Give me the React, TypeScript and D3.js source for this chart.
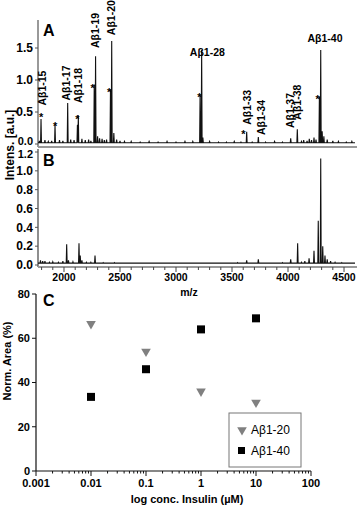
import React from "react";
import * as d3 from "d3";

// ---------- DATA ----------
// Panel A spectrum: [m/z, intensity]
const peaksA: [number, number][] = [
  [1795, 0.39], [1920, 0.30], [2033, 0.64], [2120, 0.30], [2128, 0.45],
  [2270, 0.93], [2282, 1.37], [2300, 0.12], [2318, 0.09], [2415, 0.85], [2426, 1.61],
  [2445, 0.17], [2470, 0.07], [3215, 0.77], [3229, 1.47], [3240, 0.1], [3631, 0.19],
  [3735, 0.11], [4024, 0.09], [4083, 0.23], [4140, 0.06], [4190, 0.08],
  [4232, 0.1], [4280, 0.74], [4292, 1.47], [4305, 0.2], [4320, 0.12],
  [4350, 0.07], [4400, 0.05],
];
const noiseA: [number, number][] = [
  [1780, 0.05], [1830, 0.06], [1860, 0.04], [1890, 0.05], [1960, 0.06], [1990, 0.05],
  [2060, 0.07], [2090, 0.06], [2160, 0.08], [2190, 0.06], [2220, 0.07], [2240, 0.05],
  [2340, 0.08], [2360, 0.06], [2380, 0.07], [2500, 0.05], [2540, 0.04], [2600, 0.04],
  [2680, 0.03], [2760, 0.04], [2840, 0.03], [2920, 0.04], [3000, 0.03], [3080, 0.04],
  [3150, 0.04], [3300, 0.04], [3380, 0.03], [3450, 0.03], [3520, 0.04], [3580, 0.03],
  [3680, 0.03], [3800, 0.03], [3880, 0.04], [3950, 0.03], [4120, 0.04], [4170, 0.05],
  [4210, 0.06], [4250, 0.07], [4450, 0.04], [4520, 0.03], [4570, 0.04],
];
// Panel B spectrum
const peaksB: [number, number][] = [
  [1790, 0.05], [1810, 0.04], [2024, 0.22], [2040, 0.05], [2134, 0.23],
  [2145, 0.1], [2160, 0.05], [2277, 0.1], [3631, 0.05], [3735, 0.06],
  [4024, 0.06], [4086, 0.23], [4150, 0.04], [4188, 0.07], [4232, 0.15],
  [4270, 0.47], [4292, 1.13], [4310, 0.2], [4330, 0.1], [4350, 0.06], [4380, 0.04],
];
const noiseB: [number, number][] = [
  [1830, 0.04], [1870, 0.03], [1900, 0.035], [1950, 0.03], [1990, 0.04], [2080, 0.035],
  [2200, 0.03], [2240, 0.03], [2350, 0.025], [2450, 0.025], [2600, 0.02], [2800, 0.02],
  [3000, 0.02], [3200, 0.02], [3400, 0.02], [3550, 0.025], [3850, 0.02], [3950, 0.025],
  [4120, 0.03], [4420, 0.03], [4480, 0.025], [4550, 0.02],
];
const starsA: [number, number][] = [
  [1795, 0.45], [1920, 0.31], [2119, 0.43], [2256, 0.91], [2402, 0.85],
  [3208, 0.77], [3601, 0.19], [4265, 0.74],
];
const vLabelsA = [
  { name: "Aβ1-15", mz: 1810, h: 0.60 },
  { name: "Aβ1-17", mz: 2028, h: 0.68 },
  { name: "Aβ1-18", mz: 2135, h: 0.64 },
  { name: "Aβ1-19", mz: 2282, h: 1.50 },
  { name: "Aβ1-20", mz: 2430, h: 1.70 },
  { name: "Aβ1-33", mz: 3640, h: 0.30 },
  { name: "Aβ1-34", mz: 3770, h: 0.14 },
  { name: "Aβ1-37", mz: 4024, h: 0.25 },
  { name: "Aβ1-38", mz: 4090, h: 0.38 },
];
const hLabelsA = [
  { name: "Aβ1-28", mz: 3280, h: 1.37 },
  { name: "Aβ1-40", mz: 4330, h: 1.6 },
];
const yTicksA = [0, 0.5, 1.0, 1.5];
const yTicksB = [0, 0.2, 0.4, 0.6, 0.8, 1.0, 1.2];
const xTicksMz = [2000, 2500, 3000, 3500, 4000, 4500];

// Panel C
const conc = [0.01, 0.1, 1, 10];
const ab20 = [66.5, 54, 36, 31];
const ab40 = [33.5, 46, 64, 69];
const xTicksC = [0.001, 0.01, 0.1, 1, 10, 100];
const yTicksC = [0, 20, 40, 60, 80];

// ---------- SCALES ----------
const xMz = d3.scaleLinear().domain([1768, 4598]).range([38, 355]);
const yA = d3.scaleLinear().domain([0, 1.5]).range([144, 48]);
const yB = d3.scaleLinear().domain([0, 1.2]).range([265, 152]);
const xC = d3.scaleLog().domain([0.001, 100]).range([36, 311]);
const yC = d3.scaleLinear().domain([0, 80]).range([471, 294]);

const FONT = "Liberation Sans, Arial, sans-serif";

function spectrumPath(peaks: [number, number][], noise: [number, number][], y: d3.ScaleLinear<number, number>, base: number) {
  const all = [...peaks, ...noise].sort((a, b) => a[0] - b[0]);
  const pts: [number, number][] = [[1768, base]];
  all.forEach(([m, h]) => {
    pts.push([m - 4, base]);
    pts.push([m, h]);
    pts.push([m + 4, base]);
  });
  pts.push([4598, base]);
  const line = d3.line<[number, number]>().x((d) => xMz(d[0])).y((d) => y(d[1]));
  return line(pts) || "";
}

export default function App() {
  const minorMz = d3.range(1800, 4600, 100);
  const minorC: number[] = [];
  for (let e = -3; e < 2; e++) for (let k = 2; k <= 9; k++) minorC.push(k * Math.pow(10, e));
  const tri = d3.symbol().type(d3.symbolTriangle).size(40)();
  return (
    <svg width={358} height={513} style={{ position: "absolute", left: 0, top: 0, background: "#fff" }} fontFamily={FONT}>
      {/* ---- Panel A ---- */}
      <line x1={38} x2={38} y1={20} y2={147} stroke="#777" strokeWidth={1.5} />
      <line x1={38} x2={357} y1={147} y2={147} stroke="#999" strokeWidth={2} />
      {yTicksA.map((t) => (
        <g key={"ya" + t}>
          <line x1={35} x2={38} y1={yA(t)} y2={yA(t)} stroke="#555" />
          <text x={33} y={yA(t) - (t === 0 ? 2.5 : 0)} dy="0.36em" textAnchor="end" fontSize={t === 0 ? 11 : 12} fontWeight="bold">{t.toFixed(1)}</text>
        </g>
      ))}
      <path d={spectrumPath(peaksA, noiseA, yA, 0.02)} fill="none" stroke="#111" strokeWidth={1.1} />
      {starsA.map(([m, h], i) => (
        <text key={"s" + i} x={xMz(m)} y={yA(h)} dy="0.55em" textAnchor="middle" fontSize={11} fontWeight="bold">*</text>
      ))}
      {vLabelsA.map((l) => (
        <text key={l.name} transform={`translate(${xMz(l.mz) + 3},${yA(l.h)}) rotate(-90)`} fontSize={10.5} fontWeight="bold">{l.name}</text>
      ))}
      {hLabelsA.map((l) => (
        <text key={l.name} x={xMz(l.mz)} y={yA(l.h)} textAnchor="middle" fontSize={10.5} fontWeight="bold">{l.name}</text>
      ))}
      <text x={43} y={36} fontSize={16} fontWeight="bold">A</text>

      {/* ---- Panel B ---- */}
      <line x1={38} x2={38} y1={149} y2={267} stroke="#444" strokeWidth={1.2} />
      <line x1={38} x2={357} y1={267} y2={267} stroke="#999" strokeWidth={2} />
      {yTicksB.map((t) => (
        <g key={"yb" + t}>
          <line x1={35} x2={38} y1={yB(t)} y2={yB(t)} stroke="#555" />
          <text x={33} y={yB(t) + (t === 1.2 ? 2.5 : 0)} dy="0.36em" textAnchor="end" fontSize={t === 1.2 ? 11 : 12} fontWeight="bold">{t.toFixed(1)}</text>
        </g>
      ))}
      {minorMz.map((m) => (
        <line key={"mm" + m} x1={xMz(m)} x2={xMz(m)} y1={267} y2={m % 500 === 0 ? 272 : 270} stroke="#444" />
      ))}
      {xTicksMz.map((m) => (
        <text key={"xm" + m} x={xMz(m)} y={281} textAnchor="middle" fontSize={10.5} fontWeight="bold">{m}</text>
      ))}
      <path d={spectrumPath(peaksB, noiseB, yB, 0.02)} fill="none" stroke="#111" strokeWidth={1.1} />
      <text x={43} y={166} fontSize={16} fontWeight="bold">B</text>
      <text x={189} y={296} textAnchor="middle" fontSize={10.5} fontWeight="bold">m/z</text>
      <text transform="translate(14,145) rotate(-90)" textAnchor="middle" fontSize={12} fontWeight="bold">Intens. [a.u.]</text>

      {/* ---- Panel C ---- */}
      <line x1={36} x2={36} y1={yC(80)} y2={yC(0)} stroke="#111" strokeWidth={1.2} />
      <line x1={36} x2={311} y1={yC(0)} y2={yC(0)} stroke="#111" strokeWidth={1.2} />
      {yTicksC.map((t) => (
        <g key={"yc" + t}>
          <line x1={32} x2={36} y1={yC(t)} y2={yC(t)} stroke="#111" />
          <text x={30} y={yC(t)} dy="0.36em" textAnchor="end" fontSize={11} fontWeight="bold">{t}</text>
        </g>
      ))}
      {minorC.map((v, i) => (
        <line key={"mc" + i} x1={xC(v)} x2={xC(v)} y1={yC(0)} y2={yC(0) + 2.5} stroke="#111" />
      ))}
      {xTicksC.map((v) => (
        <g key={"xc" + v}>
          <line x1={xC(v)} x2={xC(v)} y1={yC(0)} y2={yC(0) + 5} stroke="#111" />
          <text x={xC(v)} y={487} textAnchor="middle" fontSize={11} fontWeight="bold">{String(v)}</text>
        </g>
      ))}
      {conc.map((c, i) => (
        <path key={"t" + i} d={tri} transform={`translate(${xC(c)},${yC(ab20[i])}) rotate(180)`} fill="#808080" />
      ))}
      {conc.map((c, i) => (
        <rect key={"q" + i} x={xC(c) - 4} y={yC(ab40[i]) - 4} width={8} height={8} fill="#000" />
      ))}
      <text x={43} y={306} fontSize={16} fontWeight="bold">C</text>
      <text transform="translate(11,361) rotate(-90)" textAnchor="middle" fontSize={11} fontWeight="bold">Norm. Area (%)</text>
      <text x={187} y={503} textAnchor="middle" fontSize={11} fontWeight="bold">log conc. Insulin (µM)</text>
      {/* legend */}
      <rect x={229} y={413} width={72} height={54} fill="#fff" stroke="#777" strokeWidth={1} />
      <path d={tri} transform="translate(242,430) rotate(180)" fill="#808080" />
      <text x={251} y={434} fontSize={12}>Aβ1-20</text>
      <rect x={238} y={447} width={7} height={7} fill="#000" />
      <text x={251} y={455} fontSize={12}>Aβ1-40</text>
    </svg>
  );
}
